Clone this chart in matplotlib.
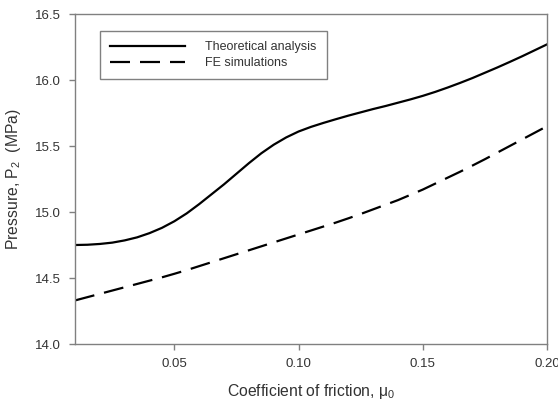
import matplotlib
matplotlib.use("Agg")
import matplotlib.pyplot as plt

plt.rcParams['font.family'] = ['Liberation Sans', 'DejaVu Sans']

mu = [0.010, 0.015, 0.020, 0.025, 0.030, 0.035, 0.040, 0.045, 0.050, 0.055,
      0.060, 0.065, 0.070, 0.075, 0.080, 0.085, 0.090, 0.095, 0.100, 0.105,
      0.110, 0.115, 0.120, 0.125, 0.130, 0.135, 0.140, 0.145, 0.150, 0.155,
      0.160, 0.165, 0.170, 0.175, 0.180, 0.185, 0.190, 0.195, 0.200]
theory = [14.750, 14.752, 14.758, 14.768, 14.785, 14.808, 14.840, 14.880, 14.930, 14.990,
          15.060, 15.135, 15.210, 15.290, 15.370, 15.445, 15.510, 15.565, 15.610, 15.645,
          15.675, 15.703, 15.730, 15.755, 15.780, 15.803, 15.828, 15.853, 15.880, 15.910,
          15.943, 15.978, 16.015, 16.055, 16.095, 16.137, 16.180, 16.225, 16.270]
fe = [14.330, 14.355, 14.380, 14.405, 14.430, 14.455, 14.480, 14.505, 14.532, 14.560,
      14.590, 14.620, 14.650, 14.680, 14.710, 14.740, 14.770, 14.800, 14.830, 14.860,
      14.890, 14.920, 14.952, 14.985, 15.020, 15.055, 15.090, 15.130, 15.170, 15.215,
      15.260, 15.305, 15.352, 15.400, 15.450, 15.500, 15.550, 15.600, 15.650]
xticks = [0.05, 0.10, 0.15, 0.20]
yticks = [14.0, 14.5, 15.0, 15.5, 16.0, 16.5]

fig = plt.figure(figsize=(5.58, 4.04), dpi=100)
ax = fig.add_axes([0.1344, 0.1485, 0.8459, 0.8168])

ax.plot(mu, theory, color='black', lw=1.6, label='Theoretical analysis',
        solid_joinstyle='round')
l2, = ax.plot(mu, fe, color='black', lw=1.6, label='FE simulations')
l2.set_dashes((9, 4.5))

ax.set_xlim(0.01, 0.20)
ax.set_ylim(14.0, 16.5)
ax.set_xticks(xticks)
ax.set_xticklabels([f"{t:.2f}" for t in xticks])
ax.set_yticks(yticks)
ax.set_yticklabels([f"{t:.1f}" for t in yticks])

gray = '#808080'
for s in ax.spines.values():
    s.set_color(gray)
    s.set_linewidth(1.0)
ax.tick_params(direction='out', length=4, width=1, color=gray, labelcolor='#333333', labelsize=9.5, pad=6)

ax.set_xlabel('Coefficient of friction, $\\mathregular{\\mu_0}$', fontsize=11.3, color='#333333', labelpad=9)
ax.set_ylabel('Pressure, P$_\\mathregular{2}$  (MPa)', fontsize=11.3, color='#333333', labelpad=9)

leg = ax.legend(loc='upper left', bbox_to_anchor=(0.040, 0.966), fontsize=9,
                handlelength=6, handletextpad=1.6, fancybox=False, framealpha=1,
                edgecolor=gray, borderpad=0.8, labelspacing=0.3)
leg.get_frame().set_linewidth(1.0)
for t in leg.get_texts():
    t.set_color('#333333')

fig.savefig('out.png', dpi=100)
